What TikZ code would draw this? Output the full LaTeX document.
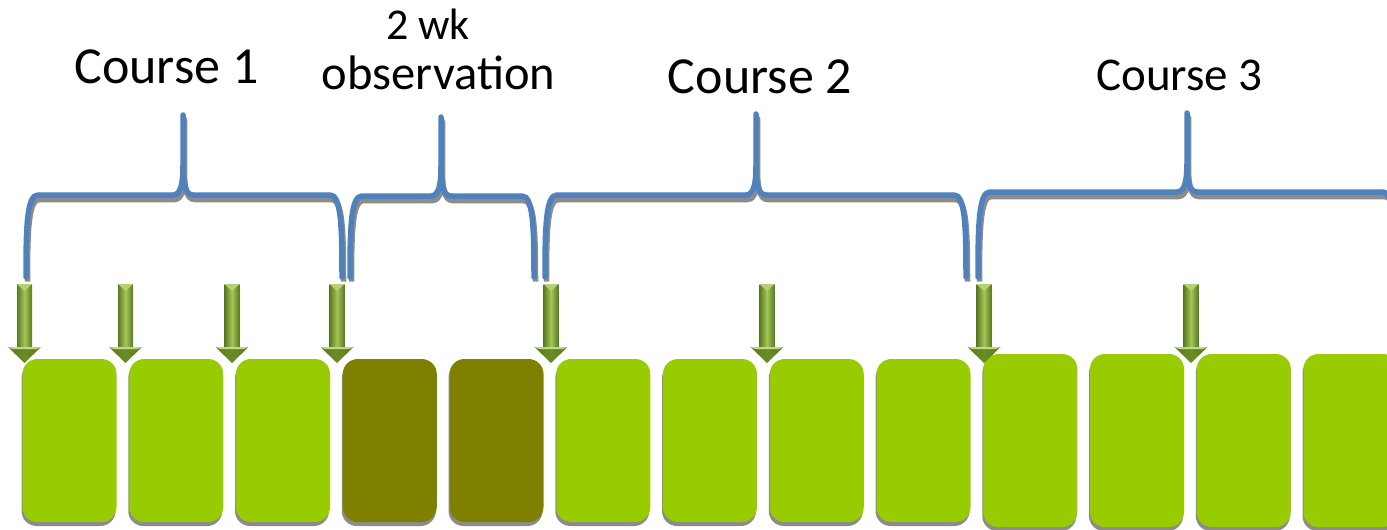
\documentclass[tikz,border=0pt]{standalone}
\usepackage{fontspec}
\setmainfont{Carlito}
\usetikzlibrary{shadows}
\definecolor{boxgreen}{HTML}{99CC00}
\definecolor{boxolive}{HTML}{808000}
\definecolor{bracecol}{HTML}{4F81BD}
\definecolor{shadowgray}{HTML}{8C8C8C}
\definecolor{arrdark}{HTML}{5A7A20}
\definecolor{arrlight}{HTML}{A3C656}
\definecolor{arrhead}{HTML}{6A8C26}
\tikzset{
  gbox/.style={rounded corners=15pt, minimum width=94pt, minimum height=163pt,
    inner sep=0pt, draw=none, fill=boxgreen,
    drop shadow={shadow xshift=-1pt, shadow yshift=-4pt, fill=shadowgray, opacity=1}},
  tallbox/.style={gbox, minimum height=173pt},
  obox/.style={gbox, fill=boxolive},
  bracestroke/.style={line width=5.5pt, draw=bracecol, line cap=round, line join=round},
  braceshadow/.style={line width=5.5pt, draw=shadowgray, line cap=butt, line join=round},
  lbl/.style={anchor=base, inner sep=0pt, font=\fontsize{52}{60}\selectfont},
}
% #1 left x, #2 right x, #3 middle x, #4 horizontal y, #5 tip y, #6 bottom y
\newcommand\mybracepath[6]{(#1,#6) .. controls (#1,{#4+30}) and ({#1+1},#4) .. ({#1+12},#4)
  -- ({#3-10},#4) .. controls ({#3-2},#4) and (#3,{#4-12}) .. (#3,{#4-30}) -- (#3,#5)
  -- (#3,{#4-30}) .. controls (#3,{#4-12}) and ({#3+2},#4) .. ({#3+10},#4)
  -- ({#2-12},#4) .. controls ({#2-1},#4) and (#2,{#4+30}) .. (#2,#6)}
\newcommand\mybrace[6]{%
  \draw[braceshadow, shift={(1.5pt,-4.5pt)}] \mybracepath{#1}{#2}{#3}{#4}{#5}{#6};
  \draw[bracestroke] \mybracepath{#1}{#2}{#3}{#4}{#5}{#6};}
% block arrow centred at x=#1
\newcommand\dnarrow[1]{%
  \shade[left color=arrdark, right color=arrdark, middle color=arrlight]
    ({#1-7.5},284) rectangle ({#1+7.5},348);
  \fill[arrlight!80!white] ({#1-7.5},284) -- ({#1+7.5},284) -- (#1,291) -- cycle;
  \shade[left color=arrdark, right color=arrdark, middle color=arrhead]
    ({#1-16.5},347) -- ({#1+16.5},347) -- (#1,363) -- cycle;
  \fill[arrlight!70!white] ({#1-16.5},347) -- ({#1+16.5},347) -- ({#1+12},349) -- ({#1-12},349) -- cycle;}
\begin{document}
\begin{tikzpicture}[x=1pt, y=-1pt]
\clip (0,0) rectangle (1387,530);
\fill[white] (0,0) rectangle (1387,530);
% boxes
\foreach \i in {1,2,3,6,7,8,9} {
  \node[gbox] (b\i) at ({69.5+106.75*(\i-1)},440.5) {};
}
\foreach \i in {4,5} {
  \node[obox] (b\i) at ({69.5+106.75*(\i-1)},440.5) {};
}
\foreach \i in {10,11,12,13} {
  \node[tallbox] (b\i) at ({69.5+106.75*(\i-1)},440.5) {};
}
% arrows
\foreach \c in {24.5,125.5,232,337,551,767,984,1191} {
  \dnarrow{\c}
}
% braces
\mybrace{26}{342}{183}{195}{115}{277}
\mybrace{350}{534}{441}{196}{117}{277}
\mybrace{545}{966}{756}{195}{114}{277}
\mybrace{978}{1395}{1187}{192}{113}{277}
% labels
\node[lbl] (t1) at (166.5,83) {Course 1};
\node[lbl, font=\fontsize{44}{50}\selectfont] (t2a) at (428,39) {2 wk};
\node[lbl, font=\fontsize{48.5}{56}\selectfont] (t2b) at (438.5,89) {observation};
\node[lbl] (t3) at (760,93) {Course 2};
\node[lbl, font=\fontsize{47}{54}\selectfont] (t4) at (1179.5,90) {Course 3};
\end{tikzpicture}
\end{document}
